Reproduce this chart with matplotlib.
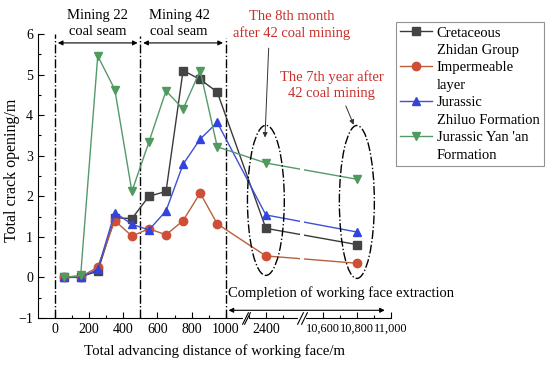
import numpy as np
import matplotlib
matplotlib.use("Agg")
import matplotlib.pyplot as plt
from matplotlib.patches import Ellipse
from matplotlib.lines import Line2D
from matplotlib.ticker import FixedLocator, MultipleLocator
import matplotlib.transforms as mtransforms

plt.rcParams["font.family"] = ["Liberation Serif", "DejaVu Serif"]
plt.rcParams["axes.unicode_minus"] = True

# ------------------------------------------------------------
# Data
# ------------------------------------------------------------
distance = [50, 150, 250, 350, 450, 550, 650, 750, 850, 950, 2400, 10800]

cretaceous = [0.0, 0.02, 0.15, 1.47, 1.45, 2.0, 2.12, 5.1, 4.88, 4.57, 1.21, 0.81]
impermeable = [0.0, 0.02, 0.25, 1.4, 1.02, 1.2, 1.05, 1.4, 2.08, 1.32, 0.53, 0.35]
zhiluo = [0.0, 0.0, 0.2, 1.6, 1.31, 1.17, 1.64, 2.79, 3.41, 3.82, 1.54, 1.12]
yanan = [0.0, 0.05, 5.46, 4.63, 2.12, 3.34, 4.6, 4.15, 5.1, 3.22, 2.82, 2.42]

# each legend label is shown as two lines
series_labels = [("Cretaceous", "Zhidan Group"), ("Impermeable", "layer"),
                 ("Jurassic", "Zhiluo Formation"), ("Jurassic Yan 'an", "Formation")]

xtick_vals = [0, 200, 400, 600, 800, 1000, 2400, 10600, 10800, 11000]
xtick_labels = ["0", "200", "400", "600", "800", "1000", "2400",
                "10,600", "10,800", "11,000"]
xminor_vals = [100, 300, 500, 700, 900, 2300, 2500, 10700, 10900]

# ------------------------------------------------------------
# Broken x axis: piecewise-linear scale
# ------------------------------------------------------------
knots_data = np.array([-5000, -100, 1110, 2290, 2600, 10490, 11000, 30000], dtype=float)
knots_virt = np.array([-5000, -100, 1110, 1125, 1435, 1458, 1968, 20968], dtype=float)


def fwd(x):
    return np.interp(x, knots_data, knots_virt)


def inv(v):
    return np.interp(v, knots_virt, knots_data)


fig = plt.figure(figsize=(5.5, 3.66), dpi=100)
ax = fig.add_axes([38 / 550, 48 / 366, 353 / 550, 284 / 366])
ax.set_xscale("function", functions=(fwd, inv))
ax.set_xlim(-100, 11000)
ax.set_ylim(-1, 6)

styles = [
    (cretaceous, "#3a3a3a", "#444444", "s", 5.5),
    (impermeable, "#b8603c", "#cf4e36", "o", 6),
    (zhiluo, "#3f4fd6", "#3344dd", "^", 6),
    (yanan, "#55996a", "#4f9a5e", "v", 6),
]
handles, labels = [], []
blank = Line2D([], [], color="none")
for (vals, lc, mc, mk, ms), (l1, l2) in zip(styles, series_labels):
    ln, = ax.plot(distance, vals, color=lc, lw=1.0, marker=mk, ms=ms,
                  mfc=mc, mec=mc, zorder=4)
    handles += [ln, blank]
    labels += [l1, l2]

# white gap where lines cross the second axis break
ax.axvspan(2600, 10490, ymin=0.13, ymax=0.62, color="white", lw=0, zorder=4.5)

# vertical separators
for xv, top in [(0, 6.0), (500, 5.95), (1000, 5.9)]:
    ax.plot([xv, xv], [-1, top], color="black", lw=1.0, ls="-.", clip_on=False, zorder=3)

# stage arrows + texts
arrow_kw = dict(arrowstyle="<|-|>", color="black", lw=0.8, mutation_scale=7)
ax.annotate("", xy=(0, 5.78), xytext=(500, 5.78), arrowprops=arrow_kw, annotation_clip=False)
ax.annotate("", xy=(500, 5.78), xytext=(1000, 5.78), arrowprops=arrow_kw, annotation_clip=False)
ax.text(250, 6.27, "Mining 22\ncoal seam", ha="center", va="center", fontsize=10.5,
        linespacing=1.3)
ax.text(726, 6.27, "Mining 42\ncoal seam", ha="center", va="center", fontsize=10.5,
        linespacing=1.3)

ax.annotate("", xy=(1000, -0.81), xytext=(10980, -0.81), arrowprops=arrow_kw,
            annotation_clip=False)
ax.text(1012, -0.38, "Completion of working face extraction", ha="left", va="center",
        fontsize=10.5)

# red notes with arrows to the ellipses
red = "#c8302c"
ax.text(2552, 6.22, "The 8th month\nafter 42 coal mining", ha="center", va="center",
        color=red, fontsize=10.5, linespacing=1.3)
ax.annotate("", xy=(2394, 3.38), xytext=(2417, 5.72),
            arrowprops=dict(arrowstyle="-|>", color="#333333", lw=0.7, mutation_scale=7),
            annotation_clip=False)
ax.text(10653, 4.75, "The 7th year after\n42 coal mining", ha="center", va="center",
        color=red, fontsize=10.5, linespacing=1.3)
ax.annotate("", xy=(10788, 3.70), xytext=(10729, 4.29),
            arrowprops=dict(arrowstyle="-|>", color="#333333", lw=0.7, mutation_scale=7),
            annotation_clip=False)

ax.add_patch(Ellipse((2400, 1.9), 216, 3.7, fill=False, ls="-.", lw=1.0,
                     ec="black", zorder=5))
ax.add_patch(Ellipse((10800, 1.86), 205, 3.77, fill=False, ls="-.", lw=1.0,
                     ec="black", zorder=5))

# axes styling
ax.spines["top"].set_visible(False)
ax.spines["right"].set_visible(False)
ax.xaxis.set_major_locator(FixedLocator(xtick_vals))
ax.xaxis.set_minor_locator(FixedLocator(xminor_vals))
ax.set_xticklabels(xtick_labels)
ax.yaxis.set_major_locator(MultipleLocator(1))
ax.yaxis.set_minor_locator(MultipleLocator(0.5))
ax.tick_params(which="major", direction="in", length=4, labelsize=10, width=0.8)
ax.tick_params(which="minor", direction="in", length=2, width=0.8)
for lbl in ax.get_xticklabels():
    if "," in lbl.get_text():
        lbl.set_fontsize(8.8)

# break marks on x axis
trans = mtransforms.blended_transform_factory(ax.transData, ax.transAxes)
for a, b in [(1112, 2290), (2598, 10492)]:
    ax.plot([a, b], [0, 0], color="white", lw=3, transform=trans, clip_on=False, zorder=6)
    for xb in (a, b):
        ax.plot([xb], [0], marker=[(-0.5, -1), (0.5, 1)], ms=9, color="black",
                mew=0.8, transform=trans, clip_on=False, zorder=7)

ax.set_xlabel("Total advancing distance of working face/m", fontsize=10.7, labelpad=6)
ax.set_ylabel("Total crack opening/m", fontsize=11.5)
ax.yaxis.set_label_coords(-0.052, (366 - 48 - 170) / 284)

leg = fig.legend(handles, labels, loc="upper left",
                 bbox_to_anchor=(396 / 550, 1 - 22 / 366), borderaxespad=0,
                 fontsize=10.5, frameon=True, fancybox=False, edgecolor="#777777",
                 handlelength=2.2, labelspacing=0.29, borderpad=0.3,
                 handletextpad=0.3)
leg.get_frame().set_linewidth(0.8)

fig.savefig("out.png", dpi=100)
